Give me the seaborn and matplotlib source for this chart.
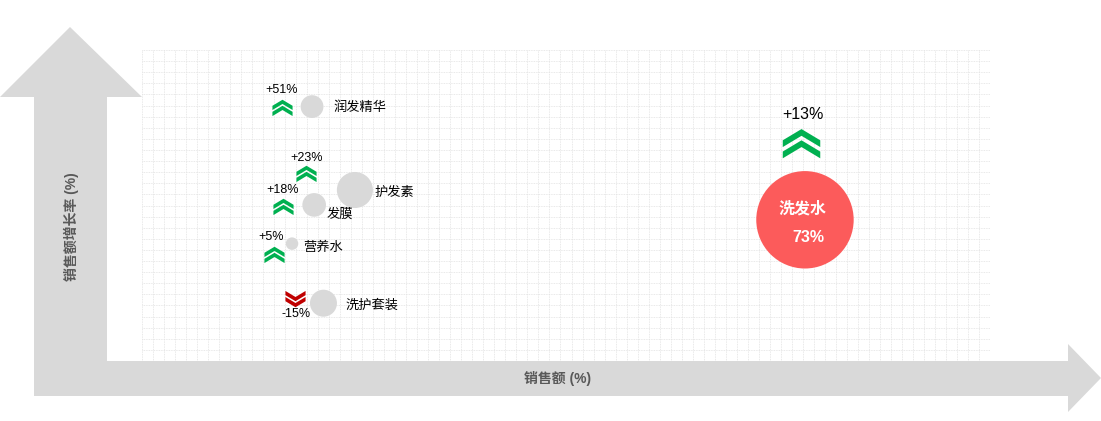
import numpy as np
import pandas as pd
import matplotlib
matplotlib.use("Agg")
import matplotlib.pyplot as plt
from matplotlib.path import Path
from matplotlib.patches import Polygon
from matplotlib import transforms
import seaborn as sns

# data
names = ["润发精华", "护发素", "发膜", "营养水", "洗护套装", "洗发水"]
share = [4.0, 10.0, 4.3, 1.2, 5.6, 73.0]       # 销售额 (%)
growth = [51, 23, 18, 5, -15, 13]              # 销售额增长率 (%)
growth_labels = ["+51%", "+23%", "+18%", "+5%", "-15%", "+13%"]

df = pd.DataFrame({"name": names, "share": share, "growth": growth})
df["kind"] = np.where(df["share"] == df["share"].max(), "top", "other")

# label layout (offsets in points from bubble centre, y up)
chev_off = [(-21.6, 0), (-35, 11.9), (-22.3, -1.1), (-13.3, -7.2), (-20.2, 3.2), (-2.5, 55)]
pct_off = [(-21.6, 12.2), (-34.6, 23), (-23, 10.8), (-15.1, 5), (-19.4, -7.9), (-1.4, 75.6)]
name_off = [(15.1, -0.7), (14.4, -2.2), (8.6, -7.2), (7.9, -2.9), (15.8, -1.4)]

sns.set_theme(style="white")
plt.rcParams["font.family"] = ["Liberation Sans", "Noto Sans CJK SC", "DejaVu Sans"]

fig = plt.figure(figsize=(11.01, 4.21), dpi=100)

# background arrows (pixel space)
bg = fig.add_axes([0, 0, 1, 1])
bg.set_xlim(0, 1101)
bg.set_ylim(421, 0)
bg.axis("off")
arrow = [(70, 27), (142, 97), (107, 97), (107, 361), (1068, 361), (1068, 344),
         (1101, 378), (1068, 412), (1068, 396), (34, 396), (34, 97), (0, 97)]
bg.add_patch(Polygon(arrow, closed=True, fc="#d9d9d9", ec="none"))
bg.text(558, 379, "销售额 (%)", ha="center", va="center", fontsize=10,
        fontweight="bold", color="#595959")
bg.text(71, 227, "销售额增长率 (%)", ha="center", va="center", fontsize=10,
        fontweight="bold", color="#595959", rotation=90)

ax = fig.add_axes([142 / 1101, 60 / 421, 848 / 1101, 311 / 421])
ax.set_facecolor("none")
ax.set_xlim(-19.8, 98.9)
ax.set_ylim(-34.4, 70.0)
ax.set_xticks(np.linspace(-19.8, 98.9, 78))
ax.set_yticks(np.linspace(-34.4, 70.0, 29))
ax.grid(True, color="#e2e2e2", linestyle=(0, (1, 1)), linewidth=0.6)
ax.tick_params(length=0, labelbottom=False, labelleft=False)
for s in ax.spines.values():
    s.set_visible(False)

sns.scatterplot(data=df, x="share", y="growth", size="share", sizes=(0, 4920),
                size_norm=(0, 73), hue="kind",
                palette={"top": "#fc5b5b", "other": "#d9d9d9"},
                edgecolor="none", linewidth=0, legend=False, ax=ax, zorder=3)
ax.set_xlabel("")
ax.set_ylabel("")


def chevron(up=True, t=0.33):
    v1 = [(-1, 0.17), (0, 0.77), (1, 0.17), (1, 0.17 - t), (0, 0.77 - t), (-1, 0.17 - t), (-1, 0.17)]
    v2 = [(x, y - 0.6) for x, y in v1]
    verts = v1 + v2
    if not up:
        verts = [(x, -y) for x, y in verts]
    codes = ([Path.MOVETO] + [Path.LINETO] * 5 + [Path.CLOSEPOLY]) * 2
    return Path(verts, codes)


for i, row in df.iterrows():
    up = row["growth"] >= 0
    col = "#00b050" if up else "#c00000"
    big = row["kind"] == "top"
    dx, dy = chev_off[i]
    tr = transforms.offset_copy(ax.transData, fig=fig, x=dx, y=dy, units="points")
    ax.plot([row["share"]], [row["growth"]], marker=chevron(up, 0.36 if big else 0.42),
            markersize=27 if big else 14.5, mfc=col, mec="none", transform=tr, zorder=4)
    px, py = pct_off[i]
    ax.annotate(growth_labels[i], (row["share"], row["growth"]), xytext=(px, py),
                textcoords="offset points", ha="center", va="center",
                fontsize=11.5 if big else 9, color="black", zorder=5)
    if big:
        ax.annotate(row["name"], (row["share"], row["growth"]), xytext=(-1.4, 7.9),
                    textcoords="offset points", ha="center", va="center",
                    fontsize=11.5, fontweight="bold", color="white", zorder=5)
        ax.annotate(f"{row['share']:.0f}%", (row["share"], row["growth"]), xytext=(2.2, -13),
                    textcoords="offset points", ha="center", va="center",
                    fontsize=11.5, fontweight="bold", color="white", zorder=5)
    else:
        nx, ny = name_off[i]
        ax.annotate(row["name"], (row["share"], row["growth"]), xytext=(nx, ny),
                    textcoords="offset points", ha="left", va="center",
                    fontsize=9.5, color="black", zorder=5)

fig.savefig("out.png", dpi=100)
